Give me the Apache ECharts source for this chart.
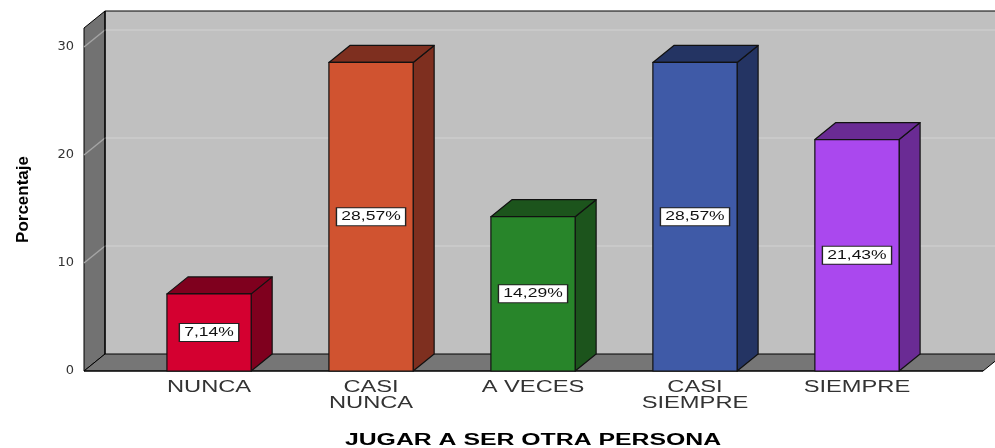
<!DOCTYPE html>
<html>
<head>
<meta charset="utf-8">
<script src="https://cdn.jsdelivr.net/npm/echarts@6/dist/echarts.min.js"></script>
<style>
  html, body { margin: 0; padding: 0; background: #fff; }
  #chart { width: 995px; height: 448px; }
</style>
</head>
<body>
<div id="chart"></div>
<script>
// datos del gráfico
const categories = ['NUNCA', 'CASI\nNUNCA', 'A VECES', 'CASI\nSIEMPRE', 'SIEMPRE'];
const percentages = [7.14, 28.57, 14.29, 28.57, 21.43];
const valueLabels = ['7,14%', '28,57%', '14,29%', '28,57%', '21,43%'];
const gridTicks = [10, 20, 30];
const frontColors = ['#d40030', '#d05330', '#28852a', '#3f5aa7', '#aa48ee'];
const sideColors = ['#7f001e', '#7e2f1f', '#1c541c', '#243463', '#6a2b94'];

// profundidad 3D (px)
const DX = 21;
const DY = -17;
const FONT = '"Liberation Sans", Arial, sans-serif';

const chart = echarts.init(document.getElementById('chart'));

// paredes: izquierda, fondo, suelo y líneas de rejilla
function renderWalls(params, api) {
  const cs = params.coordSys;
  const x0 = cs.x, y0 = cs.y, w = cs.width, h = cs.height;
  const yb = y0 + h;
  const children = [
    {
      type: 'rect',
      shape: { x: x0 + DX, y: y0 + DY, width: w, height: h },
      style: { fill: '#c0c0c0', stroke: null }
    },
    {
      type: 'polygon',
      shape: { points: [[x0, yb], [x0, y0], [x0 + DX, y0 + DY], [x0 + DX, yb + DY]] },
      style: { fill: '#727272', stroke: '#000', lineWidth: 1 }
    },
    {
      type: 'polygon',
      shape: { points: [[x0, yb], [x0 + DX, yb + DY], [x0 + w + DX, yb + DY], [x0 + w, yb]] },
      style: { fill: '#767676', stroke: '#000', lineWidth: 1 }
    }
  ];
  gridTicks.forEach(t => {
    const y = api.coord([0, t])[1];
    children.push({
      type: 'line',
      shape: { x1: x0, y1: y, x2: x0 + DX, y2: y + DY },
      style: { stroke: '#a4a4a4', lineWidth: 1.5 }
    });
    children.push({
      type: 'line',
      shape: { x1: x0 + DX, y1: y + DY, x2: x0 + w + DX, y2: y + DY },
      style: { stroke: '#cdcdcd', lineWidth: 1.5 }
    });
  });
  // bordes
  children.push({
    type: 'line',
    shape: { x1: x0 + DX, y1: y0 + DY, x2: x0 + w + DX, y2: y0 + DY },
    style: { stroke: '#000', lineWidth: 1.2 }
  });
  children.push({
    type: 'line',
    shape: { x1: x0 + DX, y1: y0 + DY, x2: x0 + DX, y2: yb + DY },
    style: { stroke: '#000', lineWidth: 1.2 }
  });
  children.push({
    type: 'line',
    shape: { x1: x0, y1: yb, x2: x0 + w, y2: yb },
    style: { stroke: '#000', lineWidth: 1.2 }
  });
  return { type: 'group', children };
}

// barras 3D
function renderBar(params, api) {
  const i = api.value(0);
  const top = api.coord([i, api.value(1)]);
  const base = api.coord([i, 0]);
  const band = api.size([1, 0])[0];
  const bw = band * 0.52;
  const left = top[0] - bw / 2;
  const right = left + bw;
  const ty = top[1], by = base[1];
  const stroke = { stroke: '#111', lineWidth: 1.2, lineJoin: 'round' };
  return {
    type: 'group',
    children: [
      {
        type: 'polygon',
        shape: { points: [[right, ty], [right + DX, ty + DY], [right + DX, by + DY], [right, by]] },
        style: Object.assign({ fill: sideColors[i] }, stroke)
      },
      {
        type: 'polygon',
        shape: { points: [[left, ty], [left + DX, ty + DY], [right + DX, ty + DY], [right, ty]] },
        style: Object.assign({ fill: sideColors[i] }, stroke)
      },
      {
        type: 'rect',
        shape: { x: left, y: ty, width: bw, height: by - ty },
        style: Object.assign({ fill: frontColors[i] }, stroke)
      },
      {
        type: 'text',
        x: top[0],
        y: (ty + by) / 2,
        scaleX: 1.4,
        style: {
          text: valueLabels[i],
          font: '12.5px ' + FONT,
          fill: '#111',
          textAlign: 'center',
          textVerticalAlign: 'middle',
          backgroundColor: '#fff',
          borderColor: '#222',
          borderWidth: 1,
          padding: [2, 3, 2, 3],
          lineHeight: 13
        }
      },
      {
        type: 'text',
        x: top[0],
        y: by + 8,
        scaleX: 1.48,
        style: {
          text: categories[i],
          font: '16px ' + FONT,
          fill: '#333',
          textAlign: 'center',
          textVerticalAlign: 'top',
          lineHeight: 16.5
        }
      }
    ]
  };
}

const option = {
  animation: false,
  grid: { left: 84, right: 12, top: 28, bottom: 77 },
  xAxis: {
    type: 'value',
    min: -0.772,
    max: 4.778,
    show: false
  },
  yAxis: {
    type: 'value',
    min: 0,
    max: 31.76,
    interval: 10,
    name: 'Porcentaje',
    nameLocation: 'middle',
    nameGap: 52,
    nameTextStyle: {
      fontFamily: FONT,
      fontWeight: 'bold',
      fontSize: 17,
      color: '#000'
    },
    axisLine: { show: false },
    axisTick: { show: false },
    splitLine: { show: false },
    axisLabel: {
      showMaxLabel: false,
      margin: 10,
      fontFamily: '"DejaVu Sans", sans-serif',
      fontSize: 13,
      color: '#333'
    }
  },
  graphic: [
    {
      type: 'text',
      x: 533,
      y: 441,
      scaleX: 1.55,
      style: {
        text: 'JUGAR A SER OTRA PERSONA',
        font: 'bold 16px ' + FONT,
        fill: '#000',
        textAlign: 'center',
        textVerticalAlign: 'middle'
      }
    }
  ],
  series: [
    {
      type: 'custom',
      renderItem: renderWalls,
      data: [[0, 0]],
      clip: false,
      silent: true,
      z: 1
    },
    {
      type: 'custom',
      renderItem: renderBar,
      data: percentages.map((v, i) => [i, v]),
      clip: false,
      z: 2
    }
  ]
};

chart.setOption(option);
</script>
</body>
</html>
